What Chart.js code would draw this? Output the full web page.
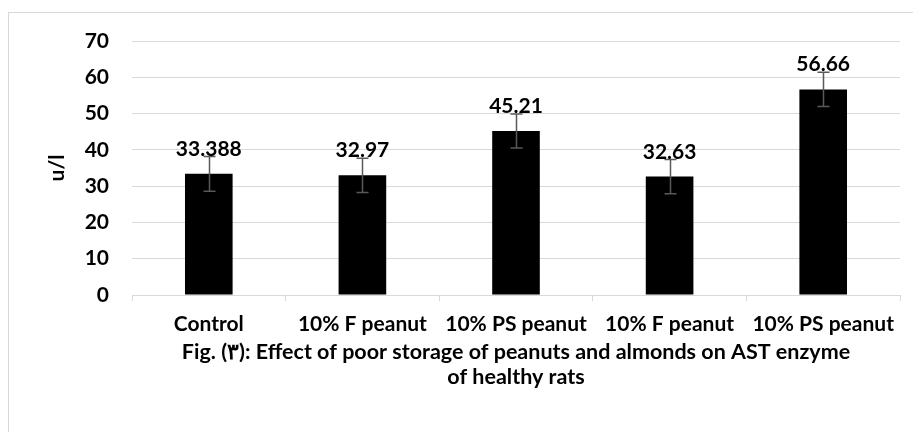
<!DOCTYPE html>
<html>
<head>
<meta charset="utf-8">
<script src="https://cdn.jsdelivr.net/npm/chart.js@4/dist/chart.umd.min.js"></script>
<style>
  html, body { margin: 0; padding: 0; background: #fff; }
  canvas { display: block; }
</style>
</head>
<body>
<canvas id="c" width="913" height="432"></canvas>
<script>
const categories = ['Control', '10% F peanut', '10% PS peanut', '10% F peanut', '10% PS peanut'];
const values = [33.388, 32.97, 45.21, 32.63, 56.66];
const errors = [4.8, 4.7, 4.7, 4.7, 4.7];
const yTicks = [0, 10, 20, 30, 40, 50, 60, 70];
const yTitle = 'u/l';
const caption = ['Fig. (\u0663): Effect of poor storage of peanuts and almonds on AST enzyme', 'of healthy rats'];

const FONT = 'Lato, "Open Sans", sans-serif';

const frame = {
  id: 'frame',
  beforeDraw(chart) {
    const ctx = chart.ctx;
    ctx.save();
    ctx.fillStyle = '#fff';
    ctx.fillRect(0, 0, chart.width, chart.height);
    ctx.strokeStyle = '#d9d9d9';
    ctx.lineWidth = 1;
    ctx.strokeRect(8.5, 12.5, 1000, 1000);
    ctx.restore();
  }
};

const errorBars = {
  id: 'errorBars',
  afterDatasetsDraw(chart) {
    const ctx = chart.ctx;
    const y = chart.scales.y;
    const meta = chart.getDatasetMeta(0);
    ctx.save();
    ctx.strokeStyle = '#595959';
    ctx.lineWidth = 1.5;
    meta.data.forEach((bar, i) => {
      const x = Math.round(bar.x) + 0.5;
      const top = y.getPixelForValue(values[i] + errors[i]);
      const bot = y.getPixelForValue(values[i] - errors[i]);
      ctx.beginPath();
      ctx.moveTo(x, top); ctx.lineTo(x, bot);
      ctx.moveTo(x - 6, top); ctx.lineTo(x + 6, top);
      ctx.moveTo(x - 6, bot); ctx.lineTo(x + 6, bot);
      ctx.stroke();
    });
    ctx.fillStyle = '#000';
    ctx.font = 'bold 21px ' + FONT;
    ctx.textAlign = 'center';
    ctx.textBaseline = 'alphabetic';
    meta.data.forEach((bar, i) => {
      ctx.fillText(String(values[i]), bar.x, bar.y - 18);
    });
    ctx.restore();
  }
};

new Chart(document.getElementById('c'), {
  type: 'bar',
  data: {
    labels: categories,
    datasets: [{
      data: values,
      backgroundColor: '#000',
      borderWidth: 0,
      barPercentage: 0.31,
      categoryPercentage: 1
    }]
  },
  options: {
    responsive: false,
    devicePixelRatio: 1,
    animation: false,
    layout: { padding: { top: 41, right: 13, bottom: 20, left: 0 } },
    plugins: { legend: { display: false }, tooltip: { enabled: false } },
    scales: {
      x: {
        grid: { offset: true, drawOnChartArea: false, drawTicks: true, tickLength: 6, color: '#d9d9d9', lineWidth: 1 },
        border: { display: true, color: '#d9d9d9', width: 1 },
        ticks: { color: '#000', font: { family: FONT, size: 21, weight: 'bold' }, padding: 11, maxRotation: 0, autoSkip: false },
        title: { display: true, text: caption, color: '#000', font: { family: FONT, size: 21.5, weight: 'bold', lineHeight: '25px' }, padding: { top: 0, bottom: 22 } },
        afterFit(scale) { scale.height = 117; }
      },
      y: {
        min: 0, max: 70,
        afterBuildTicks(scale) { scale.ticks = yTicks.map(v => ({ value: v })); },
        grid: { color: '#d9d9d9', lineWidth: 1, drawTicks: false },
        border: { display: false },
        ticks: { color: '#000', font: { family: FONT, size: 21, weight: 'bold' }, padding: 23 },
        title: { display: true, text: yTitle, color: '#000', font: { family: FONT, size: 21, weight: 'bold', lineHeight: '25px' }, padding: { top: 45, bottom: 0 } },
        afterFit(scale) { scale.width = 132; }
      }
    }
  },
  plugins: [frame, errorBars]
});
</script>
</body>
</html>
